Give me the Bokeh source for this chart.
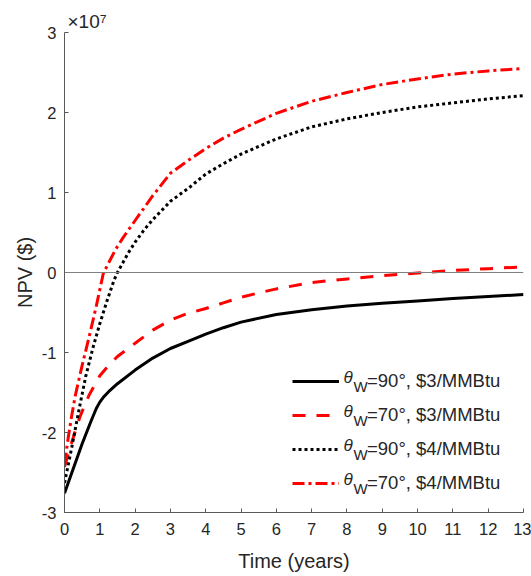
import numpy as np
from bokeh.plotting import figure
from bokeh.models import (FixedTicker, CustomJSTickFormatter, Span, Legend,
                          LegendItem, Label)
from bokeh.embed import file_html
from bokeh.resources import INLINE

FONT = "Liberation Sans"
TEXT = "#262626"
SCALE = 1e7  # y axis shows NPV in units of 10^7 $

# ---- data: NPV ($ / 1e7) versus time (years) -------------------------------
t_90_3 = [0, 0.25, 0.5, 0.75, 0.9, 1.0, 1.1, 1.25, 1.5, 2.0, 2.5, 3.0, 3.5,
          4.0, 4.5, 5.0, 6.0, 7.0, 8.0, 9.0, 10.0, 11.0, 12.0, 13.0]
npv_90_3 = [-2.76, -2.45, -2.14, -1.86, -1.70, -1.62, -1.56, -1.49, -1.39,
            -1.22, -1.07, -0.95, -0.86, -0.77, -0.69, -0.62, -0.525, -0.465,
            -0.42, -0.385, -0.355, -0.325, -0.30, -0.275]

t_70_3 = [0, 0.2, 0.44, 0.7, 1.0, 1.25, 1.5, 2.0, 2.5, 3.0, 3.5, 4.0, 4.5,
          5.0, 5.5, 6.0, 7.0, 8.0, 9.0, 10.0, 11.0, 12.0, 13.0]
npv_70_3 = [-2.43, -2.13, -1.80, -1.53, -1.29, -1.16, -1.05, -0.885, -0.72,
            -0.595, -0.51, -0.45, -0.38, -0.31, -0.255, -0.205, -0.125, -0.08,
            -0.04, -0.005, 0.025, 0.048, 0.07]

t_90_4 = [0, 0.2, 0.4, 0.6, 0.8, 1.0, 1.2, 1.4, 1.5, 1.6, 1.8, 2.0, 2.25,
          2.5, 3.0, 3.5, 4.0, 4.5, 5.0, 6.0, 7.0, 8.0, 9.0, 10.0, 11.0, 12.0,
          13.0]
npv_90_4 = [-2.63, -2.20, -1.74, -1.30, -0.95, -0.64, -0.36, -0.10, 0.0, 0.08,
            0.24, 0.38, 0.53, 0.66, 0.89, 1.05, 1.23, 1.36, 1.48, 1.67, 1.82,
            1.92, 2.00, 2.07, 2.12, 2.17, 2.21]

t_70_4 = [0, 0.1, 0.2, 0.3, 0.5, 0.7, 0.9, 1.1, 1.25, 1.45, 1.65, 2.0, 2.5,
          3.0, 3.5, 4.0, 4.5, 5.0, 6.0, 7.0, 8.0, 9.0, 10.0, 11.0, 12.0, 13.0]
npv_70_4 = [-2.40, -2.08, -1.80, -1.55, -1.16, -0.80, -0.42, -0.01, 0.12,
            0.29, 0.43, 0.65, 0.96, 1.24, 1.40, 1.55, 1.68, 1.79, 1.99, 2.14,
            2.25, 2.35, 2.42, 2.48, 2.52, 2.55]

x_ticks = list(range(0, 14))
y_ticks = [-3e7, -2e7, -1e7, 0, 1e7, 2e7, 3e7]

legend_labels = ["=90°, $3/MMBtu", "=70°, $3/MMBtu",
                 "=90°, $4/MMBtu", "=70°, $4/MMBtu"]
legend_subs = ["W", "W", "W", "W"]

# ---- figure -----------------------------------------------------------------
p = figure(width=531, height=576, x_range=(0, 13), y_range=(-3e7, 3e7),
           output_backend="svg", toolbar_location=None,
           min_border_left=64, min_border_right=8,
           min_border_top=32, min_border_bottom=64,
           title="×10⁷")
p.outline_line_color = None
p.grid.visible = False
p.background_fill_color = "white"
p.border_fill_color = "white"

# exponent marker for the y axis, sitting above the top-left corner
p.title.text_font = FONT
p.title.text_font_size = "19px"
p.title.text_font_style = "normal"
p.title.text_color = TEXT
p.title.align = "left"
p.title.offset = 3
p.title.standoff = 2

for ax in (p.xaxis[0], p.yaxis[0]):
    ax.axis_line_color = "#595959"
    ax.major_tick_line_color = "#595959"
    ax.major_tick_in = 4
    ax.major_tick_out = 0
    ax.minor_tick_line_color = None
    ax.major_label_text_font = FONT
    ax.major_label_text_font_size = "16.5px"
    ax.major_label_text_color = TEXT
    ax.axis_label_text_font = FONT
    ax.axis_label_text_font_size = "20px"
    ax.axis_label_text_font_style = "normal"
    ax.axis_label_text_color = TEXT

p.xaxis.ticker = FixedTicker(ticks=x_ticks, minor_ticks=[])
p.yaxis.ticker = FixedTicker(ticks=y_ticks, minor_ticks=[])
p.yaxis.formatter = CustomJSTickFormatter(
    code="return (tick / %g).toFixed(0);" % SCALE)
p.xaxis.axis_label = "Time (years)"
p.yaxis.axis_label = "NPV ($)"
p.xaxis.major_label_standoff = 10
p.yaxis.major_label_standoff = 8
p.xaxis.axis_label_standoff = 12
p.yaxis.axis_label_standoff = 3

# zero reference line
p.add_layout(Span(location=0, dimension="width", line_color="#808080",
                  line_width=1))


def dollars(vals):
    return [v * SCALE for v in vals]


r1 = p.line(t_90_3, dollars(npv_90_3), line_color="black", line_width=3)
r2 = p.line(t_70_3, dollars(npv_70_3), line_color="#ff0000", line_width=3,
            line_dash="13 11")
r3 = p.line(t_90_4, dollars(npv_90_4), line_color="black", line_width=3,
            line_dash="3 3")
r4 = p.line(t_70_4, dollars(npv_70_4), line_color="#ff0000", line_width=3,
            line_dash="12 4 3 4")

# ---- legend (theta_W drawn as separate labels for the subscript) -----------
LEG_X = 228          # from frame left
LEG_BOTTOM = 17      # from frame bottom
ROW_H = 24
GLYPH_H = 16
ROW_GAP = 10
GLYPH_W = 47
STANDOFF = 28

legend = Legend(
    items=[LegendItem(label=lab, renderers=[r])
           for lab, r in zip(legend_labels, [r1, r2, r3, r4])],
    location=(LEG_X, LEG_BOTTOM), glyph_width=GLYPH_W, glyph_height=GLYPH_H,
    label_height=ROW_H, spacing=ROW_GAP, padding=0, margin=0,
    label_standoff=STANDOFF, border_line_alpha=0, background_fill_alpha=0,
    label_text_font=FONT, label_text_font_size="18.5px",
    label_text_color=TEXT)
p.add_layout(legend)

n = len(legend_labels)
for i, sub in enumerate(legend_subs):
    line_c = LEG_BOTTOM + (n - 1 - i) * (ROW_H + ROW_GAP) + ROW_H - GLYPH_H / 2
    p.add_layout(Label(x=LEG_X + GLYPH_W + 4, y=line_c + 0.5,
                       x_units="screen", y_units="screen", text="θ",
                       text_font=FONT, text_font_size="17px",
                       text_font_style="italic", text_color=TEXT,
                       text_baseline="alphabetic"))
    p.add_layout(Label(x=LEG_X + GLYPH_W + 14, y=line_c - 8.5,
                       x_units="screen", y_units="screen", text=sub,
                       text_font=FONT, text_font_size="15px",
                       text_color=TEXT, text_baseline="alphabetic"))

open("out.html", "w").write(file_html(p, INLINE))
